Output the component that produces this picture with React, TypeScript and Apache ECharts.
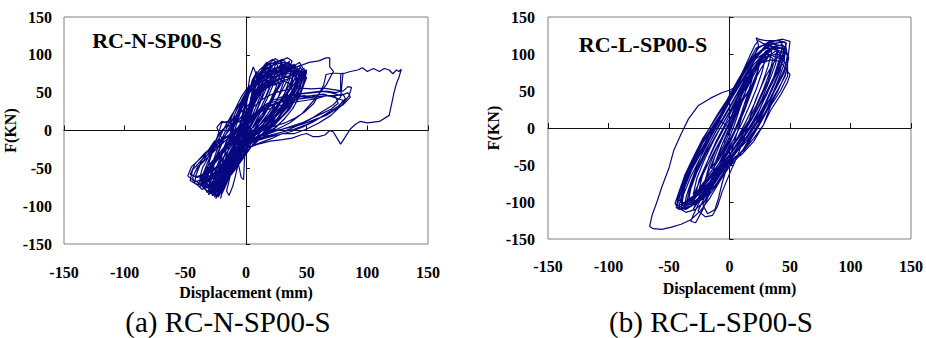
import React, { useEffect, useRef } from "react";
import * as echarts from "echarts";

// ---------- axis / text ----------
const AXIS_MIN = -150;
const AXIS_MAX = 150;
const AXIS_STEP = 50;
const panelLabels = ["RC-N-SP00-S", "RC-L-SP00-S"];
const captions = ["(a) RC-N-SP00-S", "(b) RC-L-SP00-S"];
const xTitle = "Displacement (mm)";
const yTitle = "F(KN)";

// ---------- specimen RC-N-SP00-S : [displacement mm, force kN] ----------
const nSmallCycles: number[][] = [
  [0,0],[2,18],[4,32],[3,22],[0,4],[-2,-10],[-4,-22],[-3,-14],[0,0],
  [3,28],[6,48],[8,55],[5,36],[1,10],[-3,-14],[-6,-32],[-8,-40],[-5,-24],[-1,-4],[0,2],
  [4,38],[8,58],[11,66],[13,70],[9,48],[4,22],[-1,-2],[-6,-26],[-10,-46],[-12,-55],[-9,-38],[-3,-12],[0,2],
  [5,45],[10,68],[14,78],[17,83],[12,58],[6,30],[0,5],[-6,-28],[-12,-52],[-16,-66],[-12,-48],[-5,-20],[0,0],
  [4,42],[9,70],[14,82],[18,88],[21,86],[15,60],[9,34],[2,8],[-5,-22],[-12,-50],[-18,-70],[-20,-76],[-15,-55],[-7,-26],[0,-2],
  [-1,-30],[-2,-65],[-4,-62],[-6,-46],[-8,-28],[-6,-14],[-3,2],[0,20],[1,45],[3,70],[6,84],[8,76],[6,56],[3,30],[1,10],[0,0],
];
const nPeakCycles: number[][] = [
  [3,30],[8,62],[13,80],[18,90],[22,94],[25,90],[19,64],[12,38],[5,12],[-3,-14],[-11,-46],[-19,-74],[-23,-86],[-19,-68],[-10,-36],[-2,-8],
  [2,22],[7,56],[13,78],[19,88],[24,95],[27,92],[30,94],[25,70],[18,44],[10,18],[2,-6],[-8,-36],[-16,-62],[-22,-82],[-25,-90],[-20,-70],[-12,-42],[-4,-14],
  [1,18],[6,50],[12,72],[19,84],[26,90],[31,93],[34,88],[36,92],[30,70],[22,44],[14,20],[6,0],[-4,-26],[-13,-54],[-21,-78],[-26,-88],[-22,-70],[-14,-44],[-6,-18],
  [0,15],[6,46],[13,68],[21,80],[29,86],[35,90],[38,84],[40,88],[34,66],[26,42],[18,22],[10,5],[0,-18],[-10,-46],[-19,-70],[-26,-84],[-30,-80],[-26,-64],[-18,-42],[-8,-18],
  [-1,14],[6,44],[14,64],[23,76],[32,82],[39,84],[43,80],[45,84],[38,62],[30,40],[21,20],[12,4],[2,-14],[-8,-38],[-18,-62],[-26,-78],[-31,-85],[-27,-66],[-19,-44],[-9,-20],
  [-2,12],[6,42],[15,62],[25,72],[35,78],[42,80],[47,76],[49,80],[42,58],[33,36],[24,18],[14,4],[4,-10],[-6,-32],[-16,-56],[-25,-72],[-32,-80],[-35,-76],[-29,-58],[-20,-38],[-10,-16],
  [-3,14],[6,44],[16,64],[27,74],[37,78],[44,78],[49,74],[50,78],[44,56],[35,34],[26,16],[16,2],[6,-8],[-4,-28],[-14,-50],[-24,-66],[-33,-76],[-37,-70],[-31,-52],[-22,-34],[-12,-14],
  [-4,10],[5,38],[15,56],[26,66],[36,72],[45,74],[50,70],[45,50],[36,30],[27,14],[17,2],[6,-6],[-4,-24],[-15,-44],[-25,-60],[-33,-68],[-38,-64],[-32,-48],[-22,-30],[-12,-12],
  [0,0],[8,40],[16,62],[24,74],[32,80],[40,82],[46,78],[50,80],[44,60],[36,40],[28,24],[18,8],[8,-4],[-2,-18],[-12,-42],[-20,-62],[-26,-78],[-24,-60],[-16,-38],[-8,-14],[0,6],
  [10,48],[18,70],[26,82],[34,88],[40,86],[44,90],[47,82],[40,62],[32,44],[24,28],[16,14],[6,0],[-4,-20],[-14,-48],[-22,-70],[-28,-86],[-24,-66],[-16,-40],[-6,-12],[0,0],
  [6,40],[12,66],[20,84],[28,92],[34,96],[38,92],[32,70],[24,48],[16,28],[8,10],[0,-8],[-10,-34],[-20,-60],[-28,-76],[-34,-70],[-32,-50],[-28,-30],[-24,-10],[-20,10],[-15,12],[-10,8],[-4,14],[0,20],
];
const nDenseCycles: number[][] = [
  [0,0],[3,30],[5,52],[8,66],[10,60],[13,74],[16,70],[19,82],[22,78],[20,60],[15,40],[10,22],[4,6],[-2,-12],[-8,-32],[-13,-50],[-17,-64],[-20,-72],[-16,-58],[-11,-38],[-5,-16],[0,0],
  [4,44],[7,60],[11,72],[15,68],[20,84],[25,80],[29,88],[32,84],[28,62],[22,40],[15,20],[8,4],[0,-14],[-7,-34],[-13,-54],[-18,-70],[-22,-80],[-24,-76],[-19,-56],[-12,-32],[-5,-10],[0,4],
  [3,36],[8,58],[12,70],[17,66],[22,80],[27,76],[33,86],[37,82],[41,86],[37,64],[30,44],[22,24],[14,8],[5,-6],[-4,-24],[-11,-44],[-17,-62],[-23,-78],[-27,-84],[-22,-62],[-15,-38],[-7,-14],[0,2],
  [5,40],[10,56],[16,64],[22,60],[28,72],[34,70],[40,76],[44,72],[47,78],[41,58],[33,38],[25,22],[16,8],[7,-4],[-2,-20],[-10,-40],[-17,-58],[-24,-74],[-28,-80],[-24,-60],[-17,-38],[-9,-16],[-1,2],
  [4,30],[10,48],[17,56],[24,62],[31,66],[38,70],[45,76],[48,72],[43,52],[35,32],[26,16],[17,4],[8,-6],[-2,-22],[-11,-42],[-19,-60],[-26,-72],[-31,-76],[-27,-58],[-20,-40],[-12,-20],[-4,-4],
  [2,24],[8,44],[15,58],[23,66],[31,70],[39,74],[46,80],[44,70],[37,50],[29,32],[20,16],[11,4],[2,-8],[-8,-28],[-17,-50],[-24,-66],[-30,-74],[-34,-66],[-28,-48],[-20,-30],[-11,-12],[-3,2],
  [4,26],[12,50],[20,64],[28,74],[36,80],[42,76],[38,60],[30,42],[22,26],[13,10],[4,-2],[-5,-16],[-13,-34],[-21,-52],[-29,-66],[-36,-72],[-42,-70],[-44,-62],[-40,-48],[-35,-40],[-30,-28],[-26,-16],[-22,-6],[-17,4],[-10,10],[-4,12],
  [1,40],[5,66],[9,78],[12,70],[16,86],[20,80],[24,92],[26,86],[22,66],[17,46],[11,26],[5,8],[-1,-8],[-5,-30],[-7,-48],[-9,-62],[-11,-74],[-14,-86],[-16,-80],[-13,-60],[-9,-40],[-5,-20],[0,0],
  [6,36],[12,56],[18,64],[24,60],[30,66],[36,62],[42,70],[48,66],[44,48],[36,30],[28,16],[20,6],[12,0],[4,-6],[-6,-24],[-14,-44],[-22,-62],[-26,-70],[-22,-50],[-14,-30],[-6,-10],[0,4],
];
const nWideCycles: number[][] = [
  [-14,0],[-8,20],[-3,38],[2,52],[7,62],[12,70],[17,74],[22,80],[26,78],[30,84],[33,80],[31,64],[27,46],[22,28],[16,12],[10,0],[4,-14],[-2,-30],[-8,-46],[-14,-60],[-19,-72],[-23,-80],[-26,-84],[-24,-70],[-21,-52],[-18,-34],[-15,-18],[-12,-4],
  [-7,16],[-2,34],[3,50],[8,60],[14,68],[20,72],[26,78],[32,80],[37,86],[40,82],[38,66],[34,48],[29,30],[23,14],[17,2],[10,-10],[3,-24],[-4,-40],[-11,-56],[-17,-68],[-22,-78],[-27,-86],[-29,-82],[-27,-66],[-24,-48],[-20,-30],[-16,-14],[-12,0],
  [-6,22],[0,44],[4,58],[9,66],[15,72],[21,76],[27,80],[33,84],[39,82],[44,86],[46,80],[43,64],[38,46],[32,28],[26,14],[19,2],[12,-8],[5,-20],[-2,-36],[-9,-52],[-16,-66],[-22,-76],[-28,-84],[-31,-80],[-29,-62],[-26,-44],[-22,-26],[-18,-10],[-14,4],
  [-8,26],[-3,42],[2,56],[8,64],[14,70],[20,74],[26,76],[32,78],[38,80],[44,78],[48,82],[47,70],[43,52],[37,34],[31,20],[24,8],[17,-2],[9,-12],[2,-26],[-6,-42],[-13,-56],[-20,-68],[-26,-76],[-32,-82],[-34,-76],[-31,-58],[-27,-40],[-23,-22],[-19,-8],
  [-14,10],[-9,28],[-4,44],[1,56],[7,64],[13,70],[19,74],[25,76],[31,76],[37,78],[43,76],[48,74],[50,78],[48,64],[44,46],[39,30],[33,18],[26,6],[19,-4],[11,-12],[4,-22],[-4,-36],[-12,-50],[-19,-62],[-26,-70],[-32,-76],[-37,-72],[-35,-56],[-31,-40],[-27,-24],[-22,-10],
  [-17,6],[-12,20],[-7,32],[-2,42],[4,54],[10,62],[17,68],[24,72],[31,74],[38,76],[44,74],[49,76],[48,62],[44,44],[38,28],[31,14],[24,4],[16,-4],[8,-10],[0,-20],[-8,-32],[-16,-46],[-24,-58],[-31,-66],[-38,-70],[-42,-66],[-40,-52],[-36,-38],[-31,-26],[-26,-14],
  [-6,-4],[-3,14],[0,34],[3,52],[5,64],[8,72],[11,80],[14,84],[17,90],[20,88],[18,70],[14,50],[10,32],[6,16],[2,0],[-2,-16],[-6,-32],[-10,-48],[-14,-62],[-17,-74],[-20,-84],[-21,-90],[-19,-76],[-17,-58],[-14,-40],[-11,-24],[-8,-10],
  [-5,8],[-2,28],[1,46],[4,60],[8,70],[12,78],[16,84],[20,88],[24,90],[28,92],[30,88],[28,72],[24,54],[19,36],[14,20],[9,6],[4,-8],[-1,-22],[-6,-38],[-11,-54],[-16,-68],[-20,-80],[-23,-88],[-22,-74],[-20,-56],[-17,-38],[-14,-22],[-11,-8],
  [-7,12],[-3,32],[1,48],[6,62],[11,72],[16,80],[21,86],[26,88],[31,90],[35,88],[38,84],[36,68],[32,50],[27,32],[21,16],[15,4],[9,-8],[3,-20],[-3,-34],[-9,-50],[-15,-64],[-20,-76],[-25,-86],[-27,-80],[-25,-64],[-22,-46],[-19,-28],[-15,-12],
  [-11,6],[-7,24],[-3,40],[2,54],[7,64],[13,72],[19,78],[25,82],[31,84],[37,86],[42,84],[44,78],[42,62],[37,44],[31,28],[25,14],[18,2],[11,-8],[4,-18],[-3,-32],[-10,-48],[-17,-62],[-23,-74],[-29,-82],[-31,-76],[-29,-58],[-26,-40],[-22,-24],[-18,-8],
  [-12,4],[-6,14],[0,26],[6,40],[12,52],[18,60],[24,66],[30,70],[36,72],[42,74],[46,72],[45,58],[41,42],[36,28],[30,18],[23,10],[16,4],[9,-2],[2,-10],[-5,-24],[-12,-40],[-19,-56],[-26,-68],[-32,-74],[-36,-68],[-34,-52],[-30,-36],[-25,-22],[-20,-10],
  [-24,4],[-20,12],[-16,10],[-12,14],[-8,20],[-4,32],[0,44],[5,58],[11,68],[18,74],[25,78],[32,80],[38,78],[42,74],[40,58],[35,40],[28,24],[21,12],[14,2],[7,-6],[0,-16],[-7,-30],[-14,-46],[-21,-62],[-27,-74],[-32,-80],[-36,-74],[-38,-62],[-36,-50],[-32,-38],[-28,-24],[-24,-10],[-20,0],
];
const nLargeCycles: number[][] = [
  [6,40],[18,62],[30,76],[42,84],[52,90],[60,92],[66,96],[69,96],[69,84],[72,78],[66,60],[56,40],[46,22],[36,10],[26,2],[14,-4],[4,-12],[-6,-30],[-18,-52],[-28,-68],[-36,-78],[-40,-72],[-33,-54],[-24,-34],[-14,-14],
  [-5,8],[4,28],[14,42],[24,50],[34,54],[44,56],[54,55],[64,56],[72,54],[80,52],[84,58],[87,57],[85,46],[78,32],[70,20],[60,10],[50,2],[40,-4],[30,-4],[22,-10],[12,-16],[2,-22],[-8,-36],[-20,-54],[-30,-66],[-40,-72],[-46,-66],[-44,-52],[-36,-38],[-26,-24],[-14,-10],
  [-4,6],[6,20],[16,30],[26,36],[36,40],[46,42],[56,44],[66,46],[74,46],[80,48],[82,42],[76,32],[66,22],[56,12],[46,4],[36,-2],[26,-6],[16,-10],[4,-16],[-6,-28],[-18,-46],[-30,-60],[-42,-68],[-48,-60],[-45,-48],[-37,-36],[-27,-22],[-15,-8],
  [-4,8],[8,24],[20,36],[32,44],[44,48],[56,50],[66,52],[74,50],[78,52],[78,74],[80,76],[78,44],[72,34],[62,24],[52,14],[42,6],[30,-2],[18,-8],[6,-14],[-6,-26],[-20,-44],[-32,-56],[-42,-62],[-38,-46],[-28,-30],[-16,-12],
  [-4,2],[12,30],[22,40],[32,46],[42,48],[52,50],[62,52],[70,50],[78,46],[84,50],[86,44],[80,34],[70,24],[60,16],[50,8],[40,2],[30,-2],[20,-6],[8,-12],[-4,-24],[-16,-44],[-28,-62],[-36,-72],[-32,-54],[-24,-36],[-14,-18],[-4,-2],
  [6,18],[18,32],[30,40],[42,44],[54,46],[64,48],[72,44],[80,40],[76,30],[66,20],[56,14],[46,8],[36,4],[26,0],[16,-6],[4,-12],[-8,-30],[-20,-50],[-30,-66],[-38,-74],[-34,-56],[-26,-40],[-16,-24],[-6,-8],
  [8,20],[16,30],[24,36],[32,40],[40,44],[48,46],[54,44],[60,48],[56,36],[48,24],[40,16],[32,10],[24,6],[16,2],[8,-2],[0,-10],[-10,-28],[-20,-48],[-30,-62],[-26,-44],[-18,-28],[-8,-10],[0,0],
  [10,22],[20,32],[30,38],[40,40],[50,44],[58,42],[66,46],[74,44],[76,36],[70,28],[62,22],[54,16],[46,10],[38,6],[30,2],[20,-2],[10,-8],[0,-14],[-12,-34],[-24,-54],[-34,-68],[-30,-50],[-20,-32],[-10,-14],[0,0],
  [6,4],[18,28],[30,34],[42,38],[50,40],[58,42],[64,60],[66,74],[72,76],[80,75],[86,78],[92,80],[96,83],[100,78],[105,82],[110,78],[114,82],[118,80],[121,75],[124,80],[126,78],[128,81],[126,70],[124,62],[122,50],[120,35],[118,20],[110,12],[100,10],[94,12],[90,8],[86,2],[82,-8],[78,-18],[75,-10],[72,-2],[69,0],[65,-6],[60,-8],[55,-8],[50,-4],[45,-6],[38,-10],[30,-12],[20,-14],[10,-18],[0,-24],[-10,-34],[-20,-46],[-30,-56],[-40,-62],[-46,-58],[-42,-44],[-34,-30],[-24,-16],[-12,-4],[0,0],
];

// ---------- specimen RC-L-SP00-S : [displacement mm, force kN] ----------
const lSmallCycles: number[][] = [
  [0,0],[2,10],[5,20],[3,8],[0,-4],[-3,-12],[-5,-20],[-3,-10],[0,0],
  [4,18],[8,34],[10,40],[7,24],[3,6],[-1,-10],[-5,-24],[-9,-36],[-10,-40],[-7,-26],[-3,-10],[0,2],
  [5,24],[10,44],[14,56],[15,60],[12,42],[8,24],[4,4],[0,-12],[-5,-28],[-10,-42],[-14,-52],[-15,-55],[-12,-38],[-8,-22],[-3,-4],[1,12],
  [7,34],[13,54],[18,68],[20,75],[17,56],[13,36],[9,16],[4,-4],[-2,-22],[-8,-40],[-14,-56],[-19,-68],[-20,-70],[-17,-52],[-12,-32],[-6,-12],[0,8],
  [6,30],[12,50],[18,66],[23,80],[25,88],[22,66],[17,44],[12,22],[6,0],[0,-18],[-7,-38],[-14,-56],[-20,-70],[-25,-82],[-22,-62],[-17,-40],[-11,-18],[-4,4],[2,24],
];
const lPeakCycles: number[][] = [
  [8,44],[15,64],[22,82],[28,94],[30,98],[27,76],[22,52],[16,28],[10,6],[4,-14],[-3,-34],[-11,-54],[-19,-72],[-26,-84],[-30,-90],[-27,-68],[-21,-44],[-14,-20],[-7,2],[0,22],
  [7,44],[14,64],[22,84],[29,98],[35,105],[32,84],[27,60],[21,34],[14,10],[7,-12],[-1,-34],[-10,-56],[-19,-74],[-27,-88],[-35,-98],[-32,-76],[-26,-52],[-19,-28],[-11,-4],[-3,18],
  [5,42],[13,64],[21,84],[29,100],[36,108],[40,110],[37,90],[32,64],[25,38],[18,12],[10,-12],[2,-32],[-7,-54],[-17,-74],[-26,-88],[-34,-98],[-40,-102],[-37,-80],[-31,-56],[-23,-32],[-15,-8],[-7,14],
  [1,38],[10,62],[19,84],[28,100],[36,110],[42,112],[44,112],[41,92],[36,66],[29,40],[22,14],[13,-10],[4,-32],[-6,-54],[-16,-74],[-26,-90],[-35,-100],[-44,-106],[-41,-84],[-35,-60],[-27,-34],[-18,-8],[-9,14],
  [0,40],[9,66],[18,88],[27,104],[36,114],[43,116],[47,115],[45,96],[40,70],[33,44],[26,18],[17,-6],[8,-28],[-2,-50],[-12,-70],[-22,-86],[-32,-98],[-40,-106],[-42,-108],[-39,-86],[-33,-62],[-25,-36],[-17,-10],[-8,12],
  [1,40],[10,68],[19,92],[24,112],[22,122],[24,120],[30,118],[38,118],[44,120],[50,117],[48,90],[48,70],[42,50],[34,30],[28,4],[20,-18],[10,-36],[2,-44],[-4,-60],[-12,-80],[-20,-98],[-28,-110],[-36,-114],[-40,-110],[-38,-90],[-32,-66],[-24,-40],[-16,-14],[-8,10],
];
const lDenseCycles: number[][] = [
  [0,0],[6,28],[12,52],[18,74],[24,92],[30,104],[36,110],[40,104],[38,86],[33,64],[27,40],[20,16],[12,-6],[4,-26],[-4,-46],[-12,-64],[-20,-80],[-28,-94],[-34,-100],[-32,-82],[-27,-60],[-20,-36],[-12,-12],[-4,10],[4,32],
  [10,56],[16,78],[22,96],[28,108],[34,114],[40,112],[46,110],[44,92],[40,72],[34,50],[28,28],[22,8],[14,-12],[6,-30],[-2,-46],[-10,-64],[-18,-82],[-26,-96],[-36,-104],[-40,-100],[-37,-80],[-32,-58],[-25,-34],[-17,-10],[-9,12],[-1,34],
  [6,56],[12,74],[18,90],[24,102],[30,110],[36,106],[42,108],[46,104],[45,86],[41,68],[36,48],[30,28],[24,10],[17,-8],[10,-24],[2,-40],[-6,-56],[-14,-74],[-22,-90],[-30,-102],[-38,-106],[-42,-96],[-38,-74],[-32,-52],[-26,-30],[-18,-8],[-10,12],[-2,30],
  [4,48],[10,64],[16,80],[22,94],[28,100],[34,98],[40,100],[44,96],[42,78],[37,58],[31,38],[25,20],[19,4],[12,-12],[4,-28],[-4,-44],[-12,-62],[-20,-82],[-26,-100],[-30,-110],[-26,-96],[-21,-76],[-16,-54],[-10,-30],[-4,-6],[2,16],
  [8,40],[14,60],[20,76],[26,88],[32,96],[38,100],[43,98],[40,80],[34,60],[28,40],[22,22],[15,4],[8,-12],[0,-28],[-8,-46],[-16,-66],[-24,-86],[-30,-98],[-36,-104],[-33,-84],[-28,-62],[-22,-40],[-15,-16],[-8,6],[-1,26],
  [6,46],[14,70],[20,86],[26,96],[32,100],[38,96],[44,92],[48,84],[46,70],[40,52],[33,32],[27,14],[21,-2],[14,-18],[6,-32],[-2,-48],[-10,-68],[-18,-90],[-22,-104],[-18,-116],[-12,-110],[-9,-94],[-6,-74],[-2,-52],[2,-30],[6,-8],[10,14],[14,36],
  [18,56],[22,72],[24,80],[20,60],[15,38],[10,18],[5,0],[0,-18],[-5,-36],[-10,-52],[-14,-64],[-12,-48],[-8,-30],[-3,-10],[2,10],[8,30],
  [14,52],[20,72],[26,88],[32,98],[36,94],[33,74],[28,52],[22,30],[16,10],[9,-8],[2,-24],[-6,-42],[-14,-60],[-22,-78],[-28,-90],[-25,-70],[-19,-48],[-12,-24],[-5,-2],[2,18],
  [8,46],[14,70],[20,90],[26,104],[30,112],[34,116],[38,114],[42,116],[45,110],[44,94],[41,76],[37,58],[32,40],[27,22],[21,4],[14,-14],[7,-30],[0,-44],[-7,-60],[-14,-78],[-22,-94],[-30,-104],[-38,-108],[-43,-104],[-40,-86],[-35,-66],[-29,-44],[-22,-20],[-14,0],[-6,20],
  [0,40],[6,60],[12,80],[17,98],[21,112],[24,118],[28,114],[33,112],[38,108],[42,100],[40,84],[36,66],[31,46],[25,26],[19,8],[12,-10],[5,-26],[-2,-42],[-9,-60],[-16,-80],[-24,-96],[-32,-106],[-37,-110],[-36,-94],[-32,-74],[-27,-52],[-21,-28],[-14,-6],[-7,14],
];
const lLargeCycles: number[][] = [
  [0,36],[8,62],[16,88],[24,108],[32,116],[40,118],[46,116],[48,96],[45,74],[38,52],[30,30],[24,6],[16,-16],[8,-38],[0,-52],[-8,-72],[-16,-94],[-24,-112],[-32,-124],[-40,-130],[-48,-134],[-56,-137],[-63,-136],[-66,-133],[-64,-118],[-60,-100],[-56,-80],[-50,-54],[-46,-30],[-40,-8],[-34,12],[-26,30],[-16,40],[-6,48],[0,51],[6,56],
  [12,78],[18,96],[22,108],[28,112],[36,110],[44,108],[48,100],[46,82],[40,60],[34,38],[28,14],[20,-8],[12,-28],[4,-42],[-4,-58],[-12,-78],[-22,-96],[-32,-106],[-42,-110],[-45,-102],[-40,-78],[-34,-54],[-26,-28],[-18,-4],[-10,18],[-2,38],
  [6,62],[14,84],[22,100],[30,108],[38,106],[46,102],[49,95],[46,72],[40,50],[32,26],[24,2],[16,-20],[8,-36],[0,-46],[-8,-64],[-16,-84],[-26,-100],[-36,-110],[-44,-108],[-42,-88],[-37,-64],[-30,-40],[-22,-14],[-14,6],[-6,26],
  [2,46],[10,64],[18,78],[26,88],[34,92],[42,90],[50,72],[48,62],[42,44],[34,24],[28,4],[20,-14],[12,-30],[4,-40],[-4,-54],[-12,-72],[-20,-92],[-26,-112],[-20,-120],[-14,-118],[-10,-106],[-6,-86],[0,-62],[6,-40],[12,-14],[16,10],
  [22,40],[30,70],[38,92],[44,104],[46,100],[40,76],[32,50],[24,28],[16,8],[8,-10],[0,-28],[-8,-50],[-16,-72],[-24,-92],[-32,-104],[-28,-84],[-20,-56],[-12,-30],[-4,-6],[4,16],[12,40],[20,62],
  [26,80],[32,96],[38,104],[44,100],[40,80],[34,58],[26,34],[18,12],[10,-8],[2,-26],[-6,-46],[-14,-68],[-22,-90],[-30,-118],[-32,-126],[-28,-128],[-22,-110],[-16,-86],[-10,-62],[-4,-38],[2,-14],[8,8],
];

const SERIES_COLOR = "#06067f";
const FONT = "Liberation Serif, Times New Roman, serif";

function lineSeries(data: number[][], axisIndex: number) {
  return {
    type: "line",
    data,
    xAxisIndex: axisIndex,
    yAxisIndex: axisIndex,
    showSymbol: false,
    symbol: "none",
    clip: true,
    lineStyle: { color: SERIES_COLOR, width: 1.2 },
    emphasis: { disabled: true },
  };
}

function labelAxes(gridIndex: number, dim: "x" | "y", margin: number, nameGap: number) {
  return {
    gridIndex,
    type: "value",
    min: AXIS_MIN,
    max: AXIS_MAX,
    interval: AXIS_STEP,
    position: dim === "x" ? "bottom" : "left",
    axisLine: { show: false, onZero: false },
    axisTick: { show: false },
    splitLine: { show: false },
    axisLabel: { margin, fontFamily: FONT, fontWeight: "bold", fontSize: 16, color: "#000" },
    name: dim === "x" ? xTitle : yTitle,
    nameLocation: "middle",
    nameGap,
    nameTextStyle: { fontFamily: FONT, fontWeight: "bold", fontSize: 16, color: "#000" },
  };
}

function zeroAxes(gridIndex: number, dim: "x" | "y") {
  return {
    gridIndex,
    type: "value",
    min: AXIS_MIN,
    max: AXIS_MAX,
    interval: AXIS_STEP,
    position: dim === "x" ? "bottom" : "left",
    axisLine: { show: true, onZero: true, lineStyle: { color: "#111", width: 1 } },
    axisTick: { show: true, inside: true, length: dim === "x" ? 5 : 4, lineStyle: { color: "#111", width: 1 } },
    axisLabel: { show: false },
    splitLine: { show: false },
  };
}

export default function App() {
  const ref = useRef<HTMLDivElement>(null);
  useEffect(() => {
    if (!ref.current) return;
    const chart = echarts.init(ref.current, null, { renderer: "svg" });
    const leftData = [...nSmallCycles, ...nPeakCycles, ...nDenseCycles, ...nWideCycles, ...nLargeCycles];
    const rightData = [...lSmallCycles, ...lPeakCycles, ...lDenseCycles, ...lLargeCycles];
    const gridBase = { show: true, borderColor: "#808080", borderWidth: 1, backgroundColor: "transparent", containLabel: false };
    chart.setOption({
      animation: false,
      backgroundColor: "#fff",
      grid: [
        { ...gridBase, left: 64, top: 17, width: 364, height: 227 },
        { ...gridBase, left: 548, top: 17, width: 363, height: 222 },
      ],
      xAxis: [
        labelAxes(0, "x", 20, 36),
        labelAxes(1, "x", 19, 41),
        zeroAxes(0, "x"),
        zeroAxes(1, "x"),
      ],
      yAxis: [
        labelAxes(0, "y", 12, 38),
        labelAxes(1, "y", 13, 36),
        zeroAxes(0, "y"),
        zeroAxes(1, "y"),
      ],
      series: [lineSeries(leftData, 0), lineSeries(rightData, 1)],
      graphic: [
        { type: "text", x: 157, y: 40, style: { text: panelLabels[0], font: `bold 22px ${FONT}`, fill: "#000", align: "center", verticalAlign: "middle" } },
        { type: "text", x: 643, y: 44, style: { text: panelLabels[1], font: `bold 22px ${FONT}`, fill: "#000", align: "center", verticalAlign: "middle" } },
        { type: "text", x: 228, y: 322, style: { text: captions[0], font: `29px ${FONT}`, fill: "#000", align: "center", verticalAlign: "middle" } },
        { type: "text", x: 711, y: 322, style: { text: captions[1], font: `29px ${FONT}`, fill: "#000", align: "center", verticalAlign: "middle" } },
      ],
    });
    return () => chart.dispose();
  }, []);
  return (
    <div
      ref={ref}
      style={{ position: "fixed", left: 0, top: 0, width: 926, height: 338, background: "#fff" }}
    />
  );
}
